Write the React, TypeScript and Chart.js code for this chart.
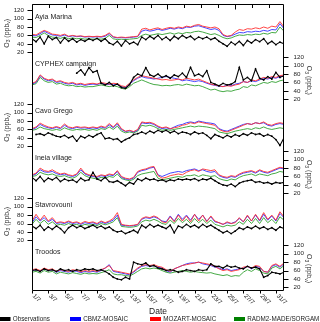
import React, { useEffect, useRef } from "react";
import { Chart, registerables } from "chart.js";

Chart.register(...registerables);

// ---------- labels ----------
const STATIONS = ["Ayia Marina", "CYPHEX campaign", "Cavo Grego", "Ineia village", "Stavrovouni", "Troodos"];
const X_LABELS = ["1/7", "3/7", "5/7", "7/7", "9/7", "11/7", "13/7", "15/7", "17/7", "19/7", "21/7", "23/7", "25/7", "27/7", "29/7", "31/7"];
const Y_TICKS = [20, 40, 60, 80, 100, 120];
const SERIES_NAMES = ["Observations", "CBMZ-MOSAIC", "MOZART-MOSAIC", "RADM2-MADE/SORGAM"];
const STEP_DAYS = 0.5; // one value every 12 h starting 1/7 00:00
const PANEL_OFFSET = 112; // vertical stacking offset between station panels (ppbv units)

// ---------- Ayia Marina ----------
const ayiaMarinaObs = [52,45,56,40,58,50,55,42,54,46,52,44,50,46,52, 48,53,46,52,42, 38,46,35,48,40,44,38, 56,50,58,52,60,50,56,48,58,52,60,54,58,50,56, 52,56,50,54,46, 40,34,44, 38,46,36,48,42,50,45,52,40,46,38, 44,40];
const ayiaMarinaCbmz = [60,59,64,70,65,61,60,58,61,57,59,57,58,56,57, 56,57,56,58,64, 56,54,55,54,55,56,57, 70,73,70,72,75,72,74,77,75,78,76,80,79,82,83, 80,77,74,76,72, 60,57,59, 63,67,66,69,68,70,69,72,70,74,73, 88,76];
const ayiaMarinaMozart = [63,61,67,72,68,63,62,60,63,58,60,58,59,57,58, 57,58,57,60,66, 57,55,56,55,56,57,58, 75,77,73,76,78,74,77,79,77,80,78,82,80,84,86, 82,80,78,80,76, 62,58,60, 68,74,72,76,75,78,76,80,77,82,80, 93,80];
const ayiaMarinaRadm2 = [56,55,60,66,60,56,55,53,56,52,54,52,53,51,52, 51,52,51,53,60, 52,50,51,50,51,52,53, 60,63,60,62,64,62,64,66,63,66,64,67,66,69,70, 68,65,62,64,60, 55,52,54, 58,61,60,62,61,63,62,65,63,67,66, 80,70];

// ---------- CYPHEX campaign ----------
const cyphexObs = [null,null,null,null,null,null,null,null,null,null,null, 82,90,78,95,84,88, 58,54,60,52,56,48, 46,55,72,80,76,95,78, 74,80,72,76,70,78,74,82,72,96,76,80, 74,88,60,56,52,58,54,56, 62,96,66,72,64,92,70, 66,74,68,84,72,76];
const cyphexCbmz = [56,60,76,68,64,66,60,62,58,56,58,54,56,53,55, 56,55,58,56,55,56,55,50, 48,56,64,70,74,71,70, 68,70,72,74,72,70,68,64,66,64,62,64, 62,58,55,53,51,50,54,52, 56,58,62,60,64,62,66, 70,68,72,70,74,76];
const cyphexMozart = [58,62,78,70,66,68,62,64,60,58,60,56,58,55,57, 58,56,60,58,56,58,57,52, 50,58,66,72,76,74,72, 70,68,66,67,65,66,68,66,70,68,66,68, 64,60,56,54,52,50,52,51, 54,56,62,60,66,64,68, 72,70,74,72,76,78];
const cyphexRadm2 = [54,57,72,64,60,62,56,58,54,52,53,50,51,49,50, 50,52,54,52,50,52,50,46, 44,50,58,62,66,62,58, 55,54,52,53,52,54,55,53,56,54,52,53, 50,46,42,44,40,38,40,39, 42,44,50,48,54,52,56, 60,58,62,60,64,66];

// ---------- Cavo Grego ----------
const cavoGregoObs = [null, 48,50,46,52,48,44,42,46,40,44,32,44,40,46, 42,48,52,38,40,36,38,30, 36,40,48,50, 54,50,56,52,58, 54,58,52,56,50,54, 52,48,54,50,52,46,38,48, 44,40,46,42,48, 44,50,46,52,48,50,44,48, 44,36,22,40];
const cavoGregoCbmz = [60,64,72,67,64,62,65,62,70,64,62,65,63,64,62, 64,62,66,63,71,64,73,60, 55,57,54,58, 76,74,75,72,66, 62,64,61,66,70,72, 76,78,76,80,78,76,75,73, 62,58,56,60,64, 68,72,74,72,76,74,76,70, 68,72,74,72];
const cavoGregoMozart = [62,66,75,70,66,64,67,64,73,66,64,67,65,66,64, 66,64,68,65,74,66,76,62, 56,58,55,60, 78,76,77,74,68, 64,66,62,64,66,70, 72,76,74,78,76,74,72,70, 60,56,54,58,62, 66,70,74,72,76,74,78,72, 70,74,76,74];
const cavoGregoRadm2 = [58,60,66,62,60,58,60,58,64,60,58,60,59,60,58, 60,58,62,60,66,60,68,56, 52,54,52,56, 70,68,70,67,62, 58,60,58,60,62,64, 66,68,66,68,67,66,64,62, 54,52,50,53,56, 58,60,62,60,64,62,66,62, 60,62,64,62];

// ---------- Ineia village ----------
const ineiaObs = [58,50,60,48,56,52,58,48,54,50,52,46,56,50,52, 70,54,50,58,48,46,50,44, 38,46,42, 54,50,56,52,54, 50,52,48, 52,50,54,52,54, 52,55,50,54,52,56,50, 44,40,38,42,36, 44,48,50,52,46,48,44,46, 42,46,44,46];
const ineiaCbmz = [62,66,76,71,70,72,67,64,66,62,60,64,76,66,62, 60,58,62,60,64,62,72,58, 54,53,56, 70,74,76,80,82, 64,60,64, 68,70,72,70,74, 76,78,74,76,72,70,72, 62,58,56,60,58, 64,68,70,72,68,74,70,68, 72,76,80,78];
const ineiaMozart = [64,68,80,74,72,76,70,66,68,64,62,66,80,68,64, 62,60,64,62,66,64,74,60, 56,54,58, 72,76,78,82,84, 62,56,58, 62,64,66,64,70, 74,76,72,78,76,74,76, 64,60,58,62,60, 66,70,72,74,70,76,72,70, 74,78,82,80];
const ineiaRadm2 = [60,62,70,66,64,66,62,60,62,58,56,60,70,62,58, 56,54,58,56,60,58,66,55, 52,50,53, 62,66,68,70,72, 56,52,54, 56,58,60,58,62, 62,64,60,64,62,60,62, 55,52,50,54,52, 58,62,64,66,62,66,64,62, 66,68,72,70];

// ---------- Stavrovouni ----------
const stavrovouniObs = [54,48,56,44,52,46,54,48,38,50,56,50,54,48,52, 56,50,54,48,52, 44,40, 42,36,40,44,38, 56,50,58,52,56, 52,48, 56,38,54,50,58,52,56,50,58,52,56,50, 44,38,42,36,42, 50,46,52,48,54,48,52,46,50,44,52,48];
const stavrovouniCbmz = [62,76,66,74,64,70,60,62,60,64,60,62,58,62,60, 62,58,64,60,64, 68,80, 56,55,54,55,57, 70,74,72,76,72, 66,64, 78,66,82,70,80,68,82,70,80,66,76,64, 62,58,62,60,64, 72,64,78,66,80,66,82,68,78,66,84,74];
const stavrovouniMozart = [66,82,68,80,66,74,62,64,62,66,62,64,60,65,62, 64,60,66,62,66, 72,86, 58,56,55,56,58, 72,76,74,78,74, 64,62, 76,64,80,66,78,64,82,66,80,64,78,66, 62,58,64,60,62, 74,64,80,66,82,68,86,70,80,68,88,76];
const stavrovouniRadm2 = [58,70,60,68,58,64,56,58,56,60,56,58,54,58,56, 58,55,60,57,60, 64,74, 53,52,51,52,54, 64,68,66,70,66, 60,58, 68,60,72,62,70,60,72,62,70,60,68,58, 55,52,56,54,56, 64,58,70,60,72,60,74,62,70,60,76,68];

// ---------- Troodos ----------
const troodosObs = [60,62,58,64,60,62,58,64,60,62,58,62,60,64,62, 64,60,62,58,52, 44,40,38,44,40, 80,76,74,78,70,72,66, 64,60,62, 60,56,58,62,60,58,62,60, 62,76,70, 70,66,72,68,70,66, 64,70,66,68,64, 44,48, 56,54,52,56];
const troodosCbmz = [60,62,58,64,60,62,56,60,58,56,60,58,55,58,56, 58,56,60,66,74, 58,56,54,52,50, 56,64,70,72,70,72,68, 66,60,56, 64,68,72,76,78,78,80,76, 74,72,68, 66,62,64,60,62,64, 66,70,64,70,68, 58,56, 70,74,68,76];
const troodosMozart = [62,64,60,66,62,64,58,62,60,58,62,60,57,60,58, 60,58,62,66,72, 60,58,56,54,52, 58,66,72,74,72,74,70, 68,62,58, 64,68,72,74,76,78,80,78, 76,74,70, 64,60,62,58,60,62, 68,70,66,72,70, 58,56, 72,76,70,78];
const troodosRadm2 = [56,58,54,60,56,58,52,56,54,52,55,53,51,54,52, 53,52,55,58,62, 52,50,50,48,47, 52,58,64,66,64,66,64, 60,56,54, 56,58,60,58,56,58,56,55, 54,55,52, 50,48,50,46,48,47, 56,62,58,64,60, 54,52, 66,70,64,72];

const PANELS = [
  { obs: ayiaMarinaObs, cbmz: ayiaMarinaCbmz, mozart: ayiaMarinaMozart, radm2: ayiaMarinaRadm2 },
  { obs: cyphexObs, cbmz: cyphexCbmz, mozart: cyphexMozart, radm2: cyphexRadm2 },
  { obs: cavoGregoObs, cbmz: cavoGregoCbmz, mozart: cavoGregoMozart, radm2: cavoGregoRadm2 },
  { obs: ineiaObs, cbmz: ineiaCbmz, mozart: ineiaMozart, radm2: ineiaRadm2 },
  { obs: stavrovouniObs, cbmz: stavrovouniCbmz, mozart: stavrovouniMozart, radm2: stavrovouniRadm2 },
  { obs: troodosObs, cbmz: troodosCbmz, mozart: troodosMozart, radm2: troodosRadm2 },
];

const FONT = '"Liberation Sans", Arial, Helvetica, sans-serif';
const LINE_COLORS = { obs: "#000000", cbmz: "#3030ff", mozart: "#ff3030", radm2: "#30a030" };
const LEGEND_COLORS = ["#000000", "#0000ff", "#ff0000", "#008000"];

const panelOffset = (k: number) => (5 - k) * PANEL_OFFSET;

function toPoints(arr: (number | null)[], k: number) {
  return arr.map((v, i) => ({ x: i * STEP_DAYS, y: v == null ? null : v + panelOffset(k) }));
}

function buildDatasets() {
  const ds: any[] = [];
  PANELS.forEach((p, k) => {
    ds.push({
      label: SERIES_NAMES[0], data: toPoints(p.obs, k), borderColor: LINE_COLORS.obs, backgroundColor: LINE_COLORS.obs,
      borderWidth: 1.1, pointRadius: 0.9, pointBorderWidth: 0, pointBackgroundColor: "#000", spanGaps: false, order: 0,
    });
  });
  PANELS.forEach((p, k) => {
    ds.push({ label: SERIES_NAMES[2], data: toPoints(p.mozart, k), borderColor: LINE_COLORS.mozart, borderWidth: 0.9, pointRadius: 0, order: 1 });
  });
  PANELS.forEach((p, k) => {
    ds.push({ label: SERIES_NAMES[1], data: toPoints(p.cbmz, k), borderColor: LINE_COLORS.cbmz, borderWidth: 0.9, pointRadius: 0, order: 2 });
  });
  PANELS.forEach((p, k) => {
    ds.push({ label: SERIES_NAMES[3], data: toPoints(p.radm2, k), borderColor: LINE_COLORS.radm2, borderWidth: 0.9, pointRadius: 0, order: 3 });
  });
  return ds;
}

function drawO3Title(ctx: CanvasRenderingContext2D, x: number, y: number, angle: number) {
  const runs: [string, number, number][] = [["O", 7, 0], ["3", 5, 1.6], [" (ppb", 7, 0], ["v", 5, 1.6], [")", 7, 0]];
  ctx.save();
  ctx.translate(x, y);
  ctx.rotate(angle);
  let total = 0;
  const widths: number[] = [];
  for (const [t, s] of runs) {
    ctx.font = `${s}px ${FONT}`;
    const w = ctx.measureText(t).width;
    widths.push(w);
    total += w;
  }
  let cx = -total / 2;
  ctx.textAlign = "left";
  ctx.textBaseline = "alphabetic";
  ctx.fillStyle = "#333";
  runs.forEach(([t, s, dy], i) => {
    ctx.font = `${s}px ${FONT}`;
    ctx.fillText(t, cx, 2.5 + dy);
    cx += widths[i];
  });
  ctx.restore();
}

const decorPlugin = {
  id: "decor",
  afterDraw(chart: any) {
    const ctx: CanvasRenderingContext2D = chart.ctx;
    const { left, right, top, bottom } = chart.chartArea;
    const xs = chart.scales.x;
    const ys = chart.scales.y;
    const L = Math.round(left) + 0.5;
    const R = Math.round(right) - 0.5;
    const T = Math.round(top) + 0.5;
    const B = Math.round(bottom) - 0.5;
    ctx.save();
    ctx.strokeStyle = "#000";
    ctx.lineWidth = 1;
    ctx.beginPath();
    ctx.moveTo(L, T); ctx.lineTo(R, T); ctx.lineTo(R, B); ctx.lineTo(L, B); ctx.closePath();
    ctx.stroke();

    // top ticks (every 50 h, longer every 200 h)
    ctx.beginPath();
    for (let h = 0; h <= 744; h += 50) {
      const px = Math.round(xs.getPixelForValue(h / 24)) + 0.5;
      const len = h % 200 === 0 ? 5 : 3.5;
      ctx.moveTo(px, T); ctx.lineTo(px, T + len);
    }
    // bottom ticks + labels
    X_LABELS.forEach((_, i) => {
      const px = Math.round(xs.getPixelForValue(i * 2)) + 0.5;
      ctx.moveTo(px, B); ctx.lineTo(px, B + 3);
    });
    // y ticks
    for (let k = 0; k < 6; k++) {
      const leftSide = k % 2 === 0;
      for (const v of Y_TICKS) {
        const py = Math.round(ys.getPixelForValue(v + panelOffset(k))) + 0.5;
        if (leftSide) { ctx.moveTo(L - 5, py); ctx.lineTo(L, py); }
        else { ctx.moveTo(R, py); ctx.lineTo(R + 5, py); }
      }
    }
    ctx.stroke();

    ctx.fillStyle = "#222";
    // y tick labels
    ctx.font = `6.2px ${FONT}`;
    ctx.textBaseline = "middle";
    for (let k = 0; k < 6; k++) {
      const leftSide = k % 2 === 0;
      ctx.textAlign = leftSide ? "right" : "left";
      for (const v of Y_TICKS) {
        const py = ys.getPixelForValue(v + panelOffset(k));
        ctx.fillText(String(v), leftSide ? L - 8.5 : R + 10, py);
      }
    }
    // x tick labels (rotated)
    ctx.font = `6.2px ${FONT}`;
    X_LABELS.forEach((lab, i) => {
      const px = xs.getPixelForValue(i * 2);
      ctx.save();
      ctx.translate(px + 1.5, B + 4.5);
      ctx.rotate(Math.PI / 4);
      ctx.textAlign = "left";
      ctx.textBaseline = "middle";
      ctx.fillText(lab, 0, 0);
      ctx.restore();
    });
    // panel names
    ctx.font = `7px ${FONT}`;
    ctx.textAlign = "left";
    ctx.textBaseline = "middle";
    STATIONS.forEach((s, k) => {
      ctx.fillText(s, L + 2.5, ys.getPixelForValue(103.5 + panelOffset(k)));
    });
    // axis titles
    for (let k = 0; k < 6; k++) {
      const py = ys.getPixelForValue(65 + panelOffset(k));
      if (k % 2 === 0) drawO3Title(ctx, 6, py, -Math.PI / 2);
      else drawO3Title(ctx, 309, py, Math.PI / 2);
    }
    // x title
    ctx.font = `8.5px ${FONT}`;
    ctx.textAlign = "center";
    ctx.textBaseline = "middle";
    ctx.fillStyle = "#222";
    ctx.fillText("Date", 158, 311.5);
    // legend
    const legendX = [-0.5, 70, 150, 234];
    ctx.font = `6.3px ${FONT}`;
    ctx.textAlign = "left";
    SERIES_NAMES.forEach((name, i) => {
      ctx.fillStyle = LEGEND_COLORS[i];
      ctx.fillRect(legendX[i], 317, 11, 4);
      ctx.fillStyle = "#222";
      ctx.fillText(name, legendX[i] + 13.3, 319.3);
    });
    ctx.restore();
  },
};

export default function App() {
  const ref = useRef<HTMLCanvasElement>(null);
  useEffect(() => {
    document.body.style.margin = "0";
    const chart = new Chart(ref.current as HTMLCanvasElement, {
      type: "line",
      data: { datasets: buildDatasets() },
      options: {
        responsive: false,
        animation: false,
        devicePixelRatio: 1,
        events: [],
        layout: { padding: { left: 32, right: 36, top: 0, bottom: 31 } },
        plugins: { legend: { display: false }, tooltip: { enabled: false } },
        elements: { line: { tension: 0 } },
        scales: {
          x: { type: "linear", min: 0, max: 31, display: false },
          y: { type: "linear", min: 11.3, max: 694.8, display: false },
        },
      },
      plugins: [decorPlugin],
    } as any);
    return () => chart.destroy();
  }, []);
  return (
    <div style={{ position: "absolute", left: 0, top: 0, width: 320, height: 322, background: "#fff" }}>
      <canvas ref={ref} width={320} height={322} style={{ display: "block", width: 320, height: 322 }} />
    </div>
  );
}
